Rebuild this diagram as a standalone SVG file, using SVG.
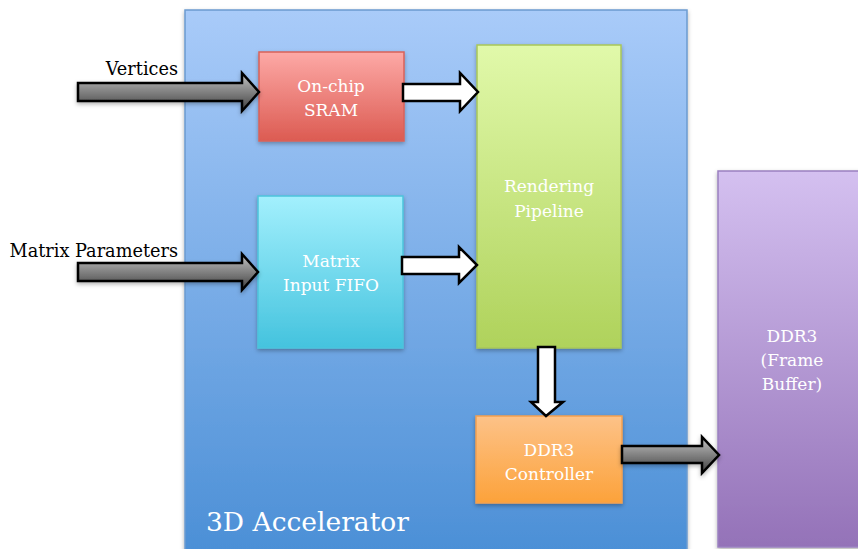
<svg xmlns="http://www.w3.org/2000/svg" width="858" height="549" viewBox="0 0 858 549">
<defs>
<linearGradient id="gBlue" x1="0" y1="0" x2="0" y2="1"><stop offset="0" stop-color="#a9cbf9"/><stop offset="1" stop-color="#4b8fd6"/></linearGradient>
<linearGradient id="gRed" x1="0" y1="0" x2="0" y2="1"><stop offset="0" stop-color="#fda9a6"/><stop offset="1" stop-color="#dc5b52"/></linearGradient>
<linearGradient id="gCyan" x1="0" y1="0" x2="0" y2="1"><stop offset="0" stop-color="#a3f0fd"/><stop offset="1" stop-color="#44c3de"/></linearGradient>
<linearGradient id="gGreen" x1="0" y1="0" x2="0" y2="1"><stop offset="0" stop-color="#e1f9aa"/><stop offset="1" stop-color="#afd25b"/></linearGradient>
<linearGradient id="gOrange" x1="0" y1="0" x2="0" y2="1"><stop offset="0" stop-color="#fdc288"/><stop offset="1" stop-color="#fca23a"/></linearGradient>
<linearGradient id="gPurple" x1="0" y1="0" x2="0" y2="1"><stop offset="0" stop-color="#d4c0f0"/><stop offset="1" stop-color="#9472b8"/></linearGradient>
<linearGradient id="gGray" x1="0" y1="0" x2="0" y2="1"><stop offset="0" stop-color="#c4c4c4"/><stop offset="1" stop-color="#3e3e3e"/></linearGradient>
<filter id="sh" x="-10%" y="-10%" width="130%" height="130%"><feDropShadow dx="0" dy="2" stdDeviation="2" flood-color="#000" flood-opacity="0.3"/></filter>
</defs>
<style>
.lbl{font-family:"DejaVu Serif","Liberation Serif",serif;font-size:17px;fill:#fff;text-anchor:middle}
.ext{font-family:"DejaVu Serif","Liberation Serif",serif;font-size:17.7px;fill:#000;text-anchor:end}
.box{filter:url(#sh)}
.garrow{fill:url(#gGray);stroke:#000;stroke-width:2.5;stroke-linejoin:miter;filter:url(#sh)}
.warrow{fill:#fff;stroke:#000;stroke-width:2.5;stroke-linejoin:miter}
</style>
<rect width="858" height="549" fill="#fff"/>
<g id="accelerator">
<rect x="185" y="10" width="502" height="545" fill="url(#gBlue)" stroke="#6b9bd0" stroke-width="1.5" class="box"/>
<text x="206" y="531" style="font-family:'DejaVu Serif','Liberation Serif',serif;font-size:26.5px;fill:#fff">3D Accelerator</text>
</g>
<g id="sram">
<rect x="259" y="52" width="145" height="89" fill="url(#gRed)" stroke="#d8625a" stroke-width="1.5" class="box"/>
<text class="lbl" x="331" y="92">On-chip</text>
<text class="lbl" x="331" y="116">SRAM</text>
</g>
<g id="fifo">
<rect x="258" y="196" width="145" height="152" fill="url(#gCyan)" stroke="#4cc4dc" stroke-width="1.5" class="box"/>
<text class="lbl" x="331" y="267">Matrix</text>
<text class="lbl" x="331" y="291">Input FIFO</text>
</g>
<g id="pipeline">
<rect x="477" y="45" width="144" height="303" fill="url(#gGreen)" stroke="#a8c65a" stroke-width="1.5" class="box"/>
<text class="lbl" x="549" y="192">Rendering</text>
<text class="lbl" x="549" y="217">Pipeline</text>
</g>
<g id="controller">
<rect x="476" y="416" width="146" height="87" fill="url(#gOrange)" stroke="#f4a050" stroke-width="1.5" class="box"/>
<text class="lbl" x="549" y="456">DDR3</text>
<text class="lbl" x="549" y="480">Controller</text>
</g>
<g id="ddr3">
<rect x="718" y="171" width="150" height="376" fill="url(#gPurple)" stroke="#9a80c0" stroke-width="1.5" class="box"/>
<text class="lbl" x="792" y="342">DDR3</text>
<text class="lbl" x="792" y="366">(Frame</text>
<text class="lbl" x="792" y="390">Buffer)</text>
</g>
<g id="connectors">
<text class="ext" x="178" y="75">Vertices</text>
<text class="ext" x="178" y="257">Matrix Parameters</text>
<polygon class="garrow" points="78,83 242,83 242,73 259,92 242,111 242,101 78,101"/>
<polygon class="garrow" points="78,263 242,263 242,254 258,272 242,290 242,281 78,281"/>
<polygon class="garrow" points="622,446 702,446 702,437 719,455 702,473 702,463 622,463"/>
<polygon class="warrow" points="403,84 460,84 460,73 478,92 460,111 460,101 403,101"/>
<polygon class="warrow" points="402,257 459,257 459,247 477,265 459,283 459,274 402,274"/>
<polygon class="warrow" points="538,347 555,347 555,402 563,402 546,416 531,402 538,402"/>
</g>
</svg>
